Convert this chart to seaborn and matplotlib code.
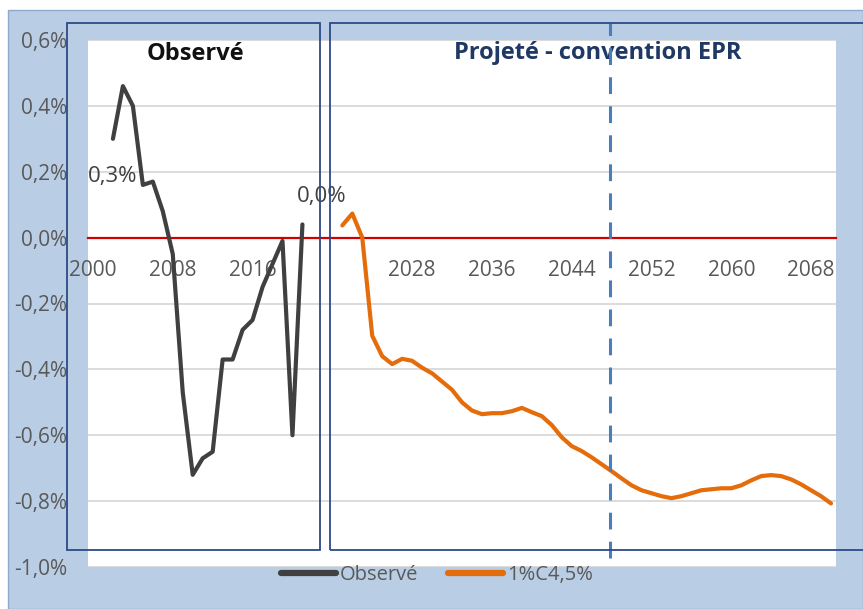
import pandas as pd
import matplotlib
matplotlib.use("Agg")
import matplotlib.pyplot as plt
import seaborn as sns
from matplotlib.patches import Rectangle
from matplotlib.ticker import FuncFormatter

# Observed series (% per year)
obs_years = list(range(2002, 2022))
obs_values = [0.30, 0.46, 0.40, 0.16, 0.17, 0.08, -0.05, -0.47, -0.72, -0.67,
              -0.65, -0.37, -0.37, -0.28, -0.25, -0.15, -0.08, -0.01, -0.60, 0.04]

# Projected series, scenario 1%C4,5%
proj_years = list(range(2021, 2071))
proj_values = [0.037, 0.073, 0.00, -0.298, -0.36, -0.384, -0.368, -0.374, -0.395, -0.412,
               -0.437, -0.462, -0.50, -0.525, -0.536, -0.533, -0.533, -0.527, -0.517, -0.530,
               -0.542, -0.569, -0.606, -0.633, -0.648, -0.667, -0.688, -0.709, -0.731, -0.752,
               -0.767, -0.776, -0.785, -0.791, -0.785, -0.776, -0.767, -0.764, -0.761, -0.761,
               -0.752, -0.737, -0.724, -0.721, -0.724, -0.734, -0.749, -0.767, -0.785, -0.807]

# Category axis: 2000-2023 for the observed block, then 2020-2070 for projections
obs_categories = list(range(2000, 2024))
proj_categories = list(range(2020, 2071))
tick_labels = ["2000", "2008", "2016", "", "2028", "2036", "2044", "2052", "2060", "2068"]
y_ticks = [-1.0, -0.8, -0.6, -0.4, -0.2, 0.0, 0.2, 0.4, 0.6]
epr_line_x = 51.8

obs_df = pd.DataFrame({"pos": [obs_categories.index(y) for y in obs_years],
                       "value": obs_values})
proj_df = pd.DataFrame({"pos": [len(obs_categories) + proj_categories.index(y) for y in proj_years],
                        "value": proj_values})
n_cat = len(obs_categories) + len(proj_categories)

sns.set_style("white")
plt.rcParams["font.family"] = ["Open Sans", "DejaVu Sans"]

W, H = 863, 609
fig = plt.figure(figsize=(W / 100, H / 100), dpi=100)
fig.patches.append(Rectangle((8 / W, 0), (W - 8) / W, 1 - 10 / H, transform=fig.transFigure,
                             facecolor="#B9CDE5", edgecolor="#8FA9CC", lw=1, zorder=-10))

ax = fig.add_axes([88 / W, 1 - 567 / H, 748 / W, 527 / H])
ax.set_facecolor("white")

sns.lineplot(data=obs_df, x="pos", y="value", color="#404040", lw=3, label="Observé", ax=ax, zorder=3)
sns.lineplot(data=proj_df, x="pos", y="value", color="#E46C0A", lw=3, label="1%C4,5%", ax=ax, zorder=3)

ax.set_xlim(-0.5, n_cat - 0.5)
ax.set_ylim(-1.0, 0.6)
ax.set_xticks(range(0, n_cat, 8))
ax.set_xticklabels(tick_labels)
ax.set_yticks(y_ticks)
ax.yaxis.set_major_formatter(FuncFormatter(lambda v, p: f"{round(v, 1) + 0.0:.1f}%".replace(".", ",")))
ax.set_xlabel("")
ax.set_ylabel("")

ax.grid(axis="y", color="#D9D9D9", lw=1.3)
ax.grid(axis="x", visible=False)
for s in ["left", "right", "top"]:
    ax.spines[s].set_visible(False)
ax.spines["bottom"].set_position(("data", 0))
ax.spines["bottom"].set_color("#D00000")
ax.spines["bottom"].set_linewidth(1.6)
ax.tick_params(axis="x", length=0, pad=16, labelsize=15, labelcolor="#595959")
ax.tick_params(axis="y", length=0, pad=15, labelsize=15, labelcolor="#595959")

# data labels on first and last observed points
fmt = lambda v: f"{v:.1f}%".replace(".", ",")
ax.annotate(fmt(obs_values[0]), xy=(obs_df["pos"].iloc[0], obs_values[0]), xytext=(0, -27),
            textcoords="offset points", ha="center", va="center", fontsize=16, color="#404040")
ax.annotate(fmt(obs_values[-1]), xy=(obs_df["pos"].iloc[-1], obs_values[-1]), xytext=(14, 20),
            textcoords="offset points", ha="center", va="center", fontsize=16, color="#404040")

# section titles
ax.text(195 / W, 1 - 54 / H, "Observé", transform=fig.transFigure, ha="center", va="center",
        fontsize=17, fontweight="bold", color="#111111", zorder=5)
ax.text(598 / W, 1 - 53 / H, "Projeté - convention EPR", transform=fig.transFigure, ha="center",
        va="center", fontsize=17, fontweight="bold", color="#1F3864", zorder=5)

# dashed marker line
ax.axvline(epr_line_x, ymin=(567 - 558) / 527, ymax=(567 - 23) / 527, clip_on=False,
           color="#4A7EBB", lw=2.2, linestyle=(0, (5.5, 4)), zorder=6)

# section boxes
for x0, x1 in [(67, 320), (330, 880)]:
    fig.patches.append(Rectangle((x0 / W, 1 - 550 / H), (x1 - x0) / W, (550 - 23) / H,
                                 transform=fig.transFigure, fill=False,
                                 edgecolor="#2C4A86", lw=1.3, zorder=1))

handles, labels = ax.get_legend_handles_labels()
ax.legend_.remove()
leg = fig.legend(handles, labels, loc="center", bbox_to_anchor=(437 / W, 1 - 575 / H), ncol=2,
                 frameon=False, fontsize=14.5, handlelength=2.7, handletextpad=0.2, columnspacing=1.5)
for t in leg.get_texts():
    t.set_color("#595959")
for l in leg.get_lines():
    l.set_linewidth(4.5)

fig.savefig("out.png", dpi=100)
